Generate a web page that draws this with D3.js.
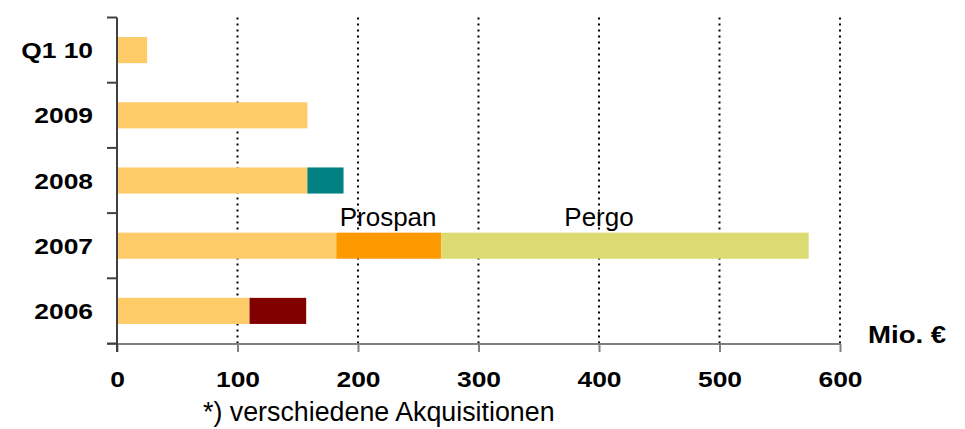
<!DOCTYPE html>
<html>
<head>
<meta charset="utf-8">
<script src="https://cdn.jsdelivr.net/npm/d3@7"></script>
<style>
  body { margin: 0; background: #fff; }
  svg { display: block; font-family: Arial, "Liberation Sans", sans-serif; }
</style>
</head>
<body>
<svg id="chart" width="965" height="429"></svg>
<script>
// categories, top to bottom
var categories = ["Q1 10", "2009", "2008", "2007", "2006"];
// series values (Mio. €)
var organic = [25, 158, 158, 182, 110];
var acq2008 = [0, 0, 30, 0, 0];
var prospan = [0, 0, 0, 87, 0];
var pergo = [0, 0, 0, 305, 0];
var acq2006 = [0, 0, 0, 0, 47];
var seriesKeys = ["organic", "acq2008", "prospan", "pergo", "acq2006"];
var seriesColors = ["#fdcb67", "#008080", "#ff9900", "#dbdb71", "#800000"];
var xTicks = [0, 100, 200, 300, 400, 500, 600];
var gridTicks = [100, 200, 300, 400, 500, 600];

var rows = categories.map(function (c, i) {
    return { cat: c, organic: organic[i], acq2008: acq2008[i], prospan: prospan[i], pergo: pergo[i], acq2006: acq2006[i] };
});

var svg = d3.select("#chart");
var x = d3.scaleLinear().domain([0, 600]).range([117, 840]);
var y = d3.scaleBand().domain(categories).range([17.5, 343.5]).paddingInner(0.6).paddingOuter(0.3);
var color = d3.scaleOrdinal().domain(seriesKeys).range(seriesColors);
var stacked = d3.stack().keys(seriesKeys)(rows);
var step = y.step();

// dotted grid
svg.append("g").selectAll("line").data(gridTicks).enter().append("line")
    .attr("x1", function (d) { return x(d); })
    .attr("x2", function (d) { return x(d); })
    .attr("y1", 17.5)
    .attr("y2", 343.5)
    .attr("stroke", "#000")
    .attr("stroke-width", 2)
    .attr("stroke-dasharray", "2,4");

// bars
svg.append("g").selectAll("g").data(stacked).enter().append("g")
    .attr("fill", function (d) { return color(d.key); })
    .selectAll("rect").data(function (d) { return d; }).enter().append("rect")
    .attr("x", function (d) { return x(d[0]); })
    .attr("width", function (d) { return x(d[1]) - x(d[0]); })
    .attr("y", function (d) { return y(d.data.cat); })
    .attr("height", y.bandwidth());

// bottom axis
var xAxis = svg.append("g")
    .attr("transform", "translate(0,344)")
    .call(d3.axisBottom(x).tickValues(xTicks).tickSizeInner(8).tickSizeOuter(0));
xAxis.select(".domain").remove();
xAxis.selectAll(".tick line").attr("stroke", "#808080").attr("stroke-width", 2);
xAxis.selectAll(".tick text")
    .attr("y", 43).attr("dy", 0)
    .attr("fill", "#000")
    .attr("font-size", 22).attr("font-weight", "bold")
    .attr("font-family", "Arial, 'Liberation Sans', sans-serif")
    .attr("transform", "scale(1.2,1)");
xAxis.append("line")
    .attr("x1", 107).attr("x2", 840).attr("y1", 0).attr("y2", 0)
    .attr("stroke", "#808080").attr("stroke-width", 2);

// left axis
var bounds = categories.map(function (c) { return y(c) - step * 0.3; });
bounds.push(y(categories[categories.length - 1]) - step * 0.3 + step);
svg.append("line")
    .attr("x1", 117).attr("x2", 117).attr("y1", 17.5).attr("y2", 352)
    .attr("stroke", "#404040").attr("stroke-width", 2);
svg.append("g").selectAll("line").data(bounds).enter().append("line")
    .attr("x1", 107).attr("x2", 117)
    .attr("y1", function (d) { return d; })
    .attr("y2", function (d) { return d; })
    .attr("stroke", "#404040").attr("stroke-width", 2);

// category labels
svg.append("g").selectAll("text").data(categories).enter().append("text")
    .attr("transform", function (d) { return "translate(93," + (y(d) + y.bandwidth() / 2 + 8) + ") scale(1.2,1)"; })
    .attr("text-anchor", "end")
    .attr("font-size", 22).attr("font-weight", "bold")
    .text(function (d) { return d; });

// segment annotations
var notes = [{ label: "Prospan", value: 225, cat: "2007" }, { label: "Pergo", value: 400, cat: "2007" }];
svg.append("g").selectAll("text").data(notes).enter().append("text")
    .attr("x", function (d) { return x(d.value); })
    .attr("y", function (d) { return y(d.cat) - 7; })
    .attr("text-anchor", "middle")
    .attr("font-size", 26)
    .text(function (d) { return d.label; });

// unit label
svg.append("text")
    .attr("transform", "translate(868,343) scale(1.2,1)")
    .attr("font-size", 23).attr("font-weight", "bold")
    .text("Mio. €");

// footnote
svg.append("text")
    .attr("x", 203).attr("y", 421)
    .attr("font-size", 26.8)
    .text("*) verschiedene Akquisitionen");
</script>
</body>
</html>
